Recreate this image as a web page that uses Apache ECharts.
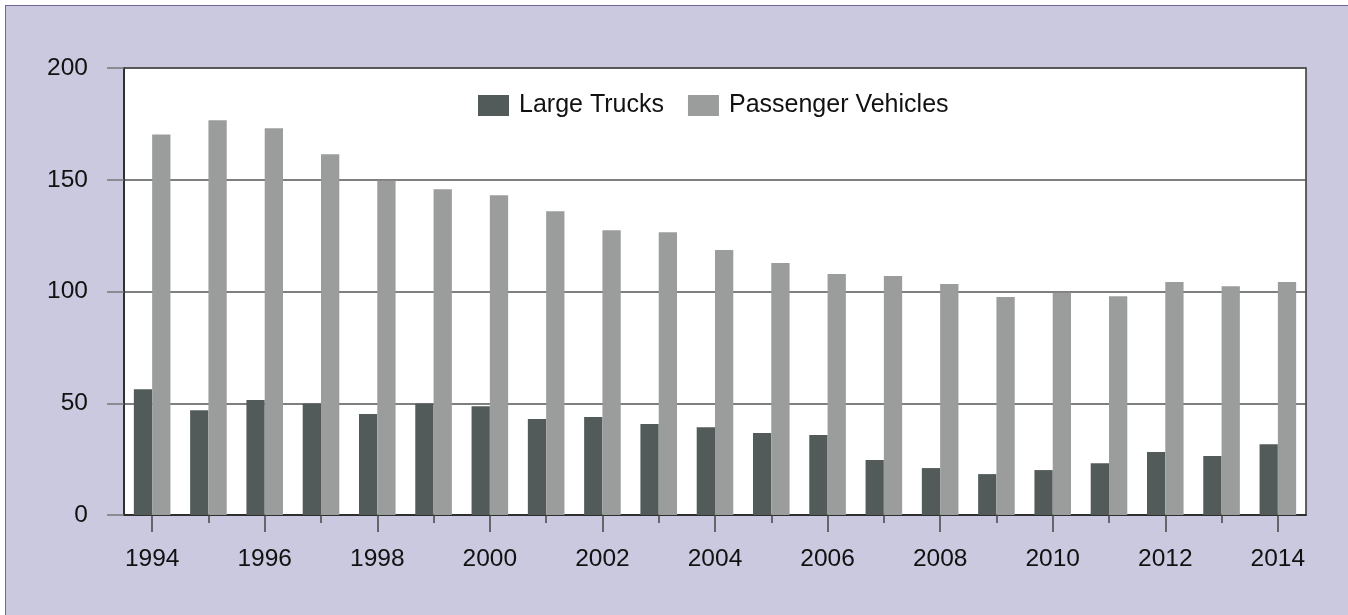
<!DOCTYPE html>
<html>
<head>
<meta charset="utf-8">
<script src="https://cdn.jsdelivr.net/npm/echarts@6/dist/echarts.min.js"></script>
<style>
  html, body { margin: 0; padding: 0; background: #ffffff; width: 1348px; height: 615px; overflow: hidden; }
  #frame { position: absolute; left: 5px; top: 5px; width: 1400px; height: 700px; background: #cbc9df; border-left: 1.5px solid #6e6698; border-top: 1.5px solid #6e6698; box-sizing: border-box; }
  #chart { position: absolute; left: 0; top: 0; width: 1348px; height: 615px; }
</style>
</head>
<body>
<div id="frame"></div>
<div id="chart"></div>
<script>
const years = ['1994','1995','1996','1997','1998','1999','2000','2001','2002','2003','2004','2005','2006','2007','2008','2009','2010','2011','2012','2013','2014'];
const largeTrucks = [56.3, 46.9, 51.4, 49.9, 45.2, 49.9, 48.7, 42.9, 43.8, 40.7, 39.3, 36.7, 35.8, 24.6, 21.0, 18.3, 20.1, 23.2, 28.2, 26.4, 31.7];
const passengerVehicles = [170.3, 176.6, 173.0, 161.4, 149.6, 145.8, 143.1, 135.9, 127.4, 126.5, 118.6, 112.7, 107.8, 106.9, 103.3, 97.5, 99.4, 97.9, 104.2, 102.4, 104.2];
const yTicks = { min: 0, max: 200, interval: 50 };

const FONT = '"Liberation Sans", Arial, Helvetica, sans-serif';
const chart = echarts.init(document.getElementById('chart'), null, { renderer: 'canvas' });
chart.setOption({
  backgroundColor: 'transparent',
  animation: false,
  textStyle: { fontFamily: FONT },
  legend: {
    left: 478, top: 93, padding: 0,
    itemWidth: 31, itemHeight: 21, itemGap: 24,
    icon: 'rect',
    textStyle: { fontSize: 25, color: '#111', fontFamily: FONT, padding: [0, 0, 0, 5] },
    data: ['Large Trucks', 'Passenger Vehicles']
  },
  grid: {
    left: 124, top: 68, width: 1182, height: 447,
    show: true, backgroundColor: '#ffffff', borderColor: '#333', borderWidth: 1.5
  },
  xAxis: [
    {
      type: 'category', data: years, boundaryGap: true, position: 'bottom',
      axisLine: { show: true, lineStyle: { color: '#222', width: 1.5 } },
      axisTick: { show: true, alignWithLabel: true, interval: 0, length: 8, lineStyle: { color: '#444', width: 1.5 } },
      axisLabel: { show: false },
      splitLine: { show: false }
    },
    {
      type: 'category', data: years, boundaryGap: true, position: 'bottom',
      axisLine: { show: false },
      axisTick: { show: true, alignWithLabel: true, interval: 1, length: 17, lineStyle: { color: '#444', width: 1.5 } },
      axisLabel: { show: true, interval: 1, fontSize: 24.5, color: '#111', margin: 32, fontFamily: FONT },
      splitLine: { show: false }
    }
  ],
  yAxis: {
    type: 'value', min: yTicks.min, max: yTicks.max, interval: yTicks.interval,
    axisLine: { show: true, lineStyle: { color: '#222', width: 1.5 } },
    axisTick: { show: true, length: 17, lineStyle: { color: '#777', width: 1.5 } },
    axisLabel: { fontSize: 24.5, color: '#111', margin: 36, fontFamily: FONT },
    splitLine: { show: true, lineStyle: { color: '#555', width: 1.5 } }
  },
  series: [
    {
      name: 'Large Trucks', type: 'bar', xAxisIndex: 0, data: largeTrucks,
      itemStyle: { color: '#525b5a' }, barGap: '0%', barCategoryGap: '35%'
    },
    {
      name: 'Passenger Vehicles', type: 'bar', xAxisIndex: 0, data: passengerVehicles,
      itemStyle: { color: '#9b9d9c' }, barGap: '0%', barCategoryGap: '35%'
    }
  ]
});
</script>
</body>
</html>
